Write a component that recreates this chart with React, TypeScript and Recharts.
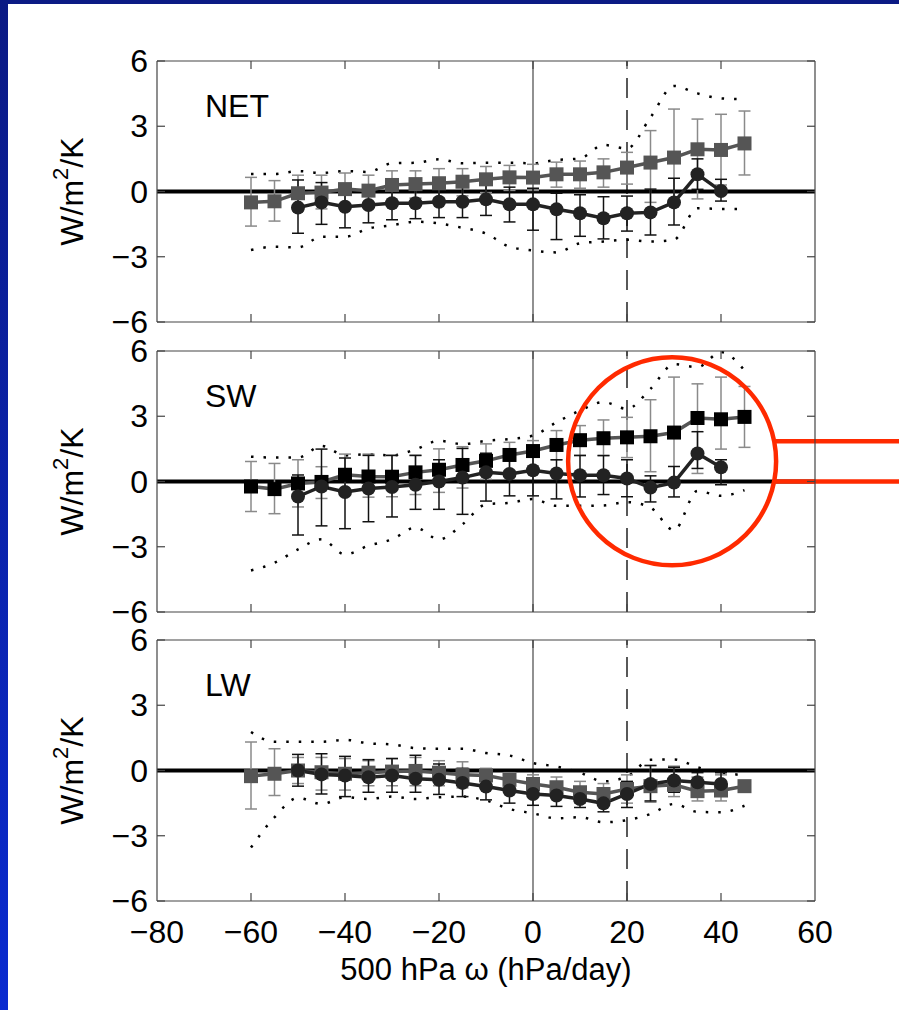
import React from 'react';
import { ComposedChart, Line, XAxis, YAxis, ErrorBar, ReferenceLine, ReferenceDot } from 'recharts';

// 500 hPa omega bins (hPa/day)
const omega = [-60, -55, -50, -45, -40, -35, -30, -25, -20, -15, -10, -5, 0, 5, 10, 15, 20, 25, 30, 35, 40, 45];
const xTicks = [-80, -60, -40, -20, 0, 20, 40, 60];
const yTicks = [-6, -3, 0, 3, 6];

// NET
const netSquare = [-0.5, -0.45, -0.08, -0.05, 0.11, 0.04, 0.3, 0.34, 0.38, 0.45, 0.56, 0.65, 0.64, 0.79, 0.79, 0.88, 1.1, 1.33, 1.56, 1.94, 1.91, 2.21];
const netSquareHi = [0.65, 0.5, 0.75, 0.75, 0.85, 0.75, 0.95, 0.95, 1.05, 1.05, 1.15, 1.2, 1.25, 1.35, 1.4, 1.5, 1.8, 2.8, 3.79, 3.33, 3.55, 3.7];
const netSquareLo = [-1.59, -1.36, -0.9, -0.8, -0.6, -0.7, -0.4, -0.3, -0.3, -0.2, -0.05, 0.05, 0.05, 0.2, 0.15, 0.2, 0.34, -0.5, -0.6, -0.34, 0.3, 0.76];
const netCircle = [null, null, -0.74, -0.5, -0.7, -0.62, -0.54, -0.54, -0.47, -0.47, -0.36, -0.59, -0.59, -0.82, -1.0, -1.23, -1.0, -0.96, -0.5, 0.79, 0.02, null];
const netCircleHi = [null, null, 0.53, 0.41, 0.1, 0.3, 0.25, 0.2, 0.25, 0.25, 0.4, 0.2, 0.15, -0.08, -0.15, -0.24, -0.21, 0.11, 0.61, 1.5, 0.56, null];
const netCircleLo = [null, null, -1.92, -1.51, -1.67, -1.44, -1.3, -1.25, -1.2, -1.2, -1.1, -1.4, -1.78, -2.21, -2.06, -2.18, -1.82, -2.0, -1.54, 0.1, -0.44, null];
const netUpper = [0.8, 0.8, 0.94, 0.85, 0.94, 0.9, 1.3, 1.32, 1.48, 1.3, 1.32, 1.32, 1.3, 1.45, 1.52, 2.14, 1.98, 3.41, 4.85, 4.51, 4.28, 4.24];
const netLower = [-2.69, -2.54, -2.57, -2.08, -2.08, -1.7, -1.55, -1.39, -1.47, -1.67, -1.93, -2.54, -2.71, -2.8, -2.38, -2.3, -2.22, -2.3, -2.22, -0.77, -0.8, -0.8];

// SW
const swSquare = [-0.23, -0.35, -0.09, -0.02, 0.31, 0.23, 0.22, 0.42, 0.54, 0.76, 0.95, 1.22, 1.4, 1.68, 1.9, 1.99, 2.03, 2.08, 2.25, 2.92, 2.86, 2.97];
const swSquareHi = [0.92, 0.83, 1.0, 0.68, 1.26, 1.26, 1.2, 1.2, 1.5, 1.6, 1.73, 1.8, 1.88, 2.34, 2.57, 2.83, 2.95, 3.76, 4.8, 4.49, 4.8, 4.37];
const swSquareLo = [-1.38, -1.48, -1.17, -0.78, -0.5, -0.72, -0.7, -0.6, -0.5, -0.3, 0.1, 0.5, 0.7, 1.0, 1.19, 1.2, 1.1, 0.45, -0.1, 0.37, 1.49, 1.57];
const swCircle = [null, null, -0.69, -0.23, -0.48, -0.32, -0.25, -0.15, 0.0, 0.18, 0.42, 0.35, 0.52, 0.37, 0.29, 0.29, 0.14, -0.28, -0.05, 1.29, 0.65, null];
const swCircleHi = [null, null, 0.3, 1.49, 1.08, 1.2, 1.2, 1.2, 1.0, 1.52, 1.3, 1.2, 1.5, 1.0, 1.2, 1.19, 1.0, 0.26, 0.69, 2.29, 1.0, null];
const swCircleLo = [null, null, -2.46, -2.04, -2.17, -1.85, -1.63, -1.28, -1.28, -1.51, -0.9, -0.66, -0.66, -0.8, -0.71, -0.6, -0.7, -0.94, -0.71, 0.6, -0.15, null];
const swUpper = [1.14, 1.1, 1.1, 1.64, 1.2, 1.25, 1.2, 1.48, 1.87, 1.72, 1.87, 1.95, 2.11, 2.72, 3.26, 3.65, 3.34, 4.26, 5.39, 5.26, 5.95, 5.11];
const swLower = [-4.09, -3.74, -3.12, -2.66, -3.35, -2.95, -2.66, -2.12, -2.66, -1.97, -1.05, -0.98, -0.81, -1.12, -1.12, -1.1, -0.95, -1.2, -2.24, -0.43, -0.66, -0.4];

// LW
const lwSquare = [-0.26, -0.15, 0.0, -0.08, -0.15, -0.1, -0.05, -0.02, -0.1, -0.2, -0.23, -0.43, -0.62, -0.77, -1.0, -1.08, -0.85, -0.72, -0.66, -0.95, -0.92, -0.72];
const lwSquareHi = [1.31, 1.0, 0.6, 0.6, 0.55, 0.45, 0.55, 0.6, 0.45, 0.4, 0.1, -0.1, -0.2, -0.3, -0.5, -0.6, -0.2, 0.23, 0.2, -0.3, -0.2, -0.72];
const lwSquareLo = [-1.77, -1.15, -0.6, -0.9, -0.9, -0.7, -0.7, -0.7, -0.7, -0.8, -0.6, -0.8, -1.0, -1.2, -1.5, -1.5, -1.5, -1.46, -1.2, -1.4, -1.4, -0.72];
const lwCircle = [null, null, 0.0, -0.18, -0.23, -0.31, -0.23, -0.38, -0.43, -0.57, -0.74, -0.92, -1.08, -1.15, -1.31, -1.51, -1.08, -0.62, -0.46, -0.54, -0.62, null];
const lwCircleHi = [null, null, 0.74, 0.77, 0.65, 0.5, 0.55, 0.7, 0.3, 0.1, -0.2, -0.4, -0.6, -0.7, -0.8, -1.1, -0.5, 0.23, 0.15, -0.1, -0.1, null];
const lwCircleLo = [null, null, -0.72, -1.08, -1.2, -1.0, -1.0, -1.0, -1.1, -1.2, -1.35, -1.5, -1.6, -1.65, -1.7, -1.9, -1.7, -1.4, -1.0, -1.0, -1.1, null];
const lwUpper = [1.77, 1.32, 1.32, 1.32, 1.41, 1.25, 1.2, 1.03, 1.0, 1.0, 0.8, 0.69, 0.34, 0.18, -0.1, -0.5, -0.28, 0.49, 0.51, 0.15, -0.08, -0.23];
const lwLower = [-3.54, -2.15, -1.26, -1.54, -1.23, -1.31, -1.2, -1.31, -1.23, -1.2, -1.38, -1.77, -1.97, -2.2, -2.15, -2.38, -2.28, -2.0, -1.54, -1.9, -1.92, -1.62];

// red highlight on the SW panel
const ringCenter = { x: 29.6, y: 0.93 };
const ringRadius = 104;
const calloutFrom = 51.7;
const calloutTo = 78;
const calloutLevels = [1.85, 0];

const FONT = '"Liberation Sans", Arial, Helvetica, sans-serif';
const FRAME = '#444';

type Num = number | null;

function buildRows(sq: Num[], sqHi: Num[], sqLo: Num[], ci: Num[], ciHi: Num[], ciLo: Num[], up: Num[], lo: Num[]) {
  return omega.map((x, i) => ({
    x,
    sq: sq[i],
    sqErr: sq[i] == null ? null : [Math.max(0, (sq[i] as number) - (sqLo[i] as number)), Math.max(0, (sqHi[i] as number) - (sq[i] as number))],
    ci: ci[i],
    ciErr: ci[i] == null ? null : [Math.max(0, (ci[i] as number) - (ciLo[i] as number)), Math.max(0, (ciHi[i] as number) - (ci[i] as number))],
    up: up[i],
    lo: lo[i],
  }));
}

const fmt = (v: number) => (v < 0 ? `\u2212${Math.abs(v)}` : `${v}`);

const squareDot = (color: string) => (props: any) => {
  const { cx, cy, index } = props;
  if (cx == null || cy == null) return <g key={index} />;
  return <rect key={index} x={cx - 7} y={cy - 7} width={14} height={14} fill={color} />;
};

const LeftTick = (props: any) => {
  const { x, y, payload } = props;
  return (
    <g>
      <line x1={x} x2={x + 8} y1={y} y2={y} stroke={FRAME} strokeWidth={1.2} />
      <text x={x - 9} y={y} textAnchor="end" dominantBaseline="central" fontSize={32} fontFamily={FONT} fill="#000">
        {fmt(payload.value)}
      </text>
    </g>
  );
};

const RightTick = (props: any) => {
  const { x, y } = props;
  return <line x1={x} x2={x - 8} y1={y} y2={y} stroke={FRAME} strokeWidth={1.2} />;
};

const TopTick = (props: any) => {
  const { x, y, payload } = props;
  if (payload.value === -80 || payload.value === 60) return <g />;
  return <line x1={x} x2={x} y1={y} y2={y + 8} stroke={FRAME} strokeWidth={1.2} />;
};

const BottomTick = (showLabel: boolean) => (props: any) => {
  const { x, y, payload } = props;
  const edge = payload.value === -80 || payload.value === 60;
  return (
    <g>
      {!edge && <line x1={x} x2={x} y1={y} y2={y - 8} stroke={FRAME} strokeWidth={1.2} />}
      {showLabel && (
        <text x={x} y={y + 42} textAnchor="middle" fontSize={32} fontFamily={FONT} fill="#000">
          {fmt(payload.value)}
        </text>
      )}
    </g>
  );
};

function Panel({
  title,
  rows,
  top,
  height,
  marginTop,
  marginBottom,
  showXLabels,
  squareFill,
  squareLine,
  ring,
}: {
  title: string;
  rows: any[];
  top: number;
  height: number;
  marginTop: number;
  marginBottom: number;
  showXLabels: boolean;
  squareFill: string;
  squareLine: string;
  ring?: boolean;
}) {
  return (
    <div style={{ position: 'absolute', left: 0, top, width: 899, height }}>
      <ComposedChart width={899} height={height} data={rows} margin={{ top: marginTop, right: 83, bottom: marginBottom, left: 57 }}>
        <XAxis
          dataKey="x"
          type="number"
          domain={[-80, 60]}
          ticks={xTicks}
          interval={0}
          allowDataOverflow
          height={1}
          tickSize={0}
          tickMargin={0}
          tickLine={false}
          axisLine={{ stroke: FRAME, strokeWidth: 1.2 }}
          tick={BottomTick(showXLabels)}
          label={
            showXLabels
              ? {
                  content: (p: any) => {
                    const vb = p.viewBox;
                    return (
                      <text x={vb.x + vb.width / 2} y={vb.y + 79} textAnchor="middle" fontSize={31} fontFamily={FONT} fill="#000">
                        500 hPa ω (hPa/day)
                      </text>
                    );
                  },
                }
              : undefined
          }
        />
        <XAxis
          xAxisId="top"
          orientation="top"
          dataKey="x"
          type="number"
          domain={[-80, 60]}
          ticks={xTicks}
          interval={0}
          allowDataOverflow
          height={1}
          tickSize={0}
          tickMargin={0}
          tickLine={false}
          axisLine={{ stroke: FRAME, strokeWidth: 1.2 }}
          tick={TopTick}
          label={{
            content: (p: any) => {
              const vb = p.viewBox;
              return (
                <text x={vb.x + 48} y={vb.y + vb.height + 56} fontSize={32} fontFamily={FONT} fill="#000">
                  {title}
                </text>
              );
            },
          }}
        />
        <YAxis
          type="number"
          domain={[-6, 6]}
          ticks={yTicks}
          interval={0}
          allowDataOverflow
          width={100}
          tickSize={0}
          tickMargin={0}
          tickLine={false}
          axisLine={{ stroke: FRAME, strokeWidth: 1.2 }}
          tick={LeftTick}
          label={{
            content: (p: any) => {
              const vb = p.viewBox;
              const cx = vb.x + 15;
              const cy = vb.y + vb.height / 2;
              return (
                <text
                  x={cx}
                  y={cy}
                  transform={`rotate(-90 ${cx} ${cy})`}
                  textAnchor="middle"
                  dominantBaseline="central"
                  fontSize={32}
                  fontFamily={FONT}
                  fill="#000"
                >
                  W/m
                  <tspan dy={-12} fontSize={22}>
                    2
                  </tspan>
                  <tspan dy={12}>/K</tspan>
                </text>
              );
            },
          }}
        />
        <YAxis
          yAxisId="right"
          orientation="right"
          type="number"
          domain={[-6, 6]}
          ticks={yTicks}
          interval={0}
          allowDataOverflow
          width={1}
          tickSize={0}
          tickMargin={0}
          tickLine={false}
          axisLine={{ stroke: FRAME, strokeWidth: 1.2 }}
          tick={RightTick}
        />

        <ReferenceLine x={0} stroke="#555" strokeWidth={1.3} />
        <ReferenceLine x={20} stroke="#000" strokeWidth={1.3} strokeDasharray="20 12" />
        <ReferenceLine y={0} stroke="#000" strokeWidth={4} />

        <Line dataKey="up" type="monotone" stroke="#000" strokeWidth={2.5} strokeDasharray="2.5 10" dot={false} isAnimationActive={false} />
        <Line dataKey="lo" type="monotone" stroke="#000" strokeWidth={2.5} strokeDasharray="2.5 10" dot={false} isAnimationActive={false} />

        <Line dataKey="sq" type="linear" stroke={squareLine} strokeWidth={3.5} dot={squareDot(squareFill)} isAnimationActive={false}>
          <ErrorBar dataKey="sqErr" direction="y" stroke="#8a8a8a" strokeWidth={1.5} width={6} />
        </Line>
        <Line dataKey="ci" type="linear" stroke="#222" strokeWidth={3.5} dot={{ r: 7, fill: '#222', stroke: '#222', strokeWidth: 0 }} isAnimationActive={false}>
          <ErrorBar dataKey="ciErr" direction="y" stroke="#111" strokeWidth={1.5} width={6} />
        </Line>

        {ring && (
          <ReferenceDot x={ringCenter.x} y={ringCenter.y} r={ringRadius} fill="none" stroke="#ff2a00" strokeWidth={4.5} ifOverflow="visible" />
        )}
        {ring &&
          calloutLevels.map((lvl) => (
            <ReferenceLine
              key={lvl}
              segment={[
                { x: calloutFrom, y: lvl },
                { x: calloutTo, y: lvl },
              ]}
              stroke="#ff2a00"
              strokeWidth={4.5}
              ifOverflow="visible"
            />
          ))}
      </ComposedChart>
    </div>
  );
}

const netRows = buildRows(netSquare, netSquareHi, netSquareLo, netCircle, netCircleHi, netCircleLo, netUpper, netLower);
const swRows = buildRows(swSquare, swSquareHi, swSquareLo, swCircle, swCircleHi, swCircleLo, swUpper, swLower);
const lwRows = buildRows(lwSquare, lwSquareHi, lwSquareLo, lwCircle, lwCircleHi, lwCircleLo, lwUpper, lwLower);

export default function App() {
  return (
    <div
      style={{
        position: 'absolute',
        left: 0,
        top: 0,
        width: 899,
        height: 1010,
        overflow: 'hidden',
        background: 'linear-gradient(180deg, #0b1a84 0%, #0a2bd0 100%)',
      }}
    >
      <style>{'svg.recharts-surface { overflow: visible; }'}</style>
      <div style={{ position: 'absolute', left: 8, top: 4, width: 891, height: 1006, background: '#fff' }} />
      <Panel title="NET" rows={netRows} top={0} height={330} marginTop={60} marginBottom={7} showXLabels={false} squareFill="#555" squareLine="#555" />
      <Panel title="SW" rows={swRows} top={330} height={290} marginTop={20} marginBottom={7} showXLabels={false} squareFill="#000" squareLine="#555" ring />
      <Panel title="LW" rows={lwRows} top={620} height={390} marginTop={19} marginBottom={108} showXLabels squareFill="#555" squareLine="#555" />
    </div>
  );
}
